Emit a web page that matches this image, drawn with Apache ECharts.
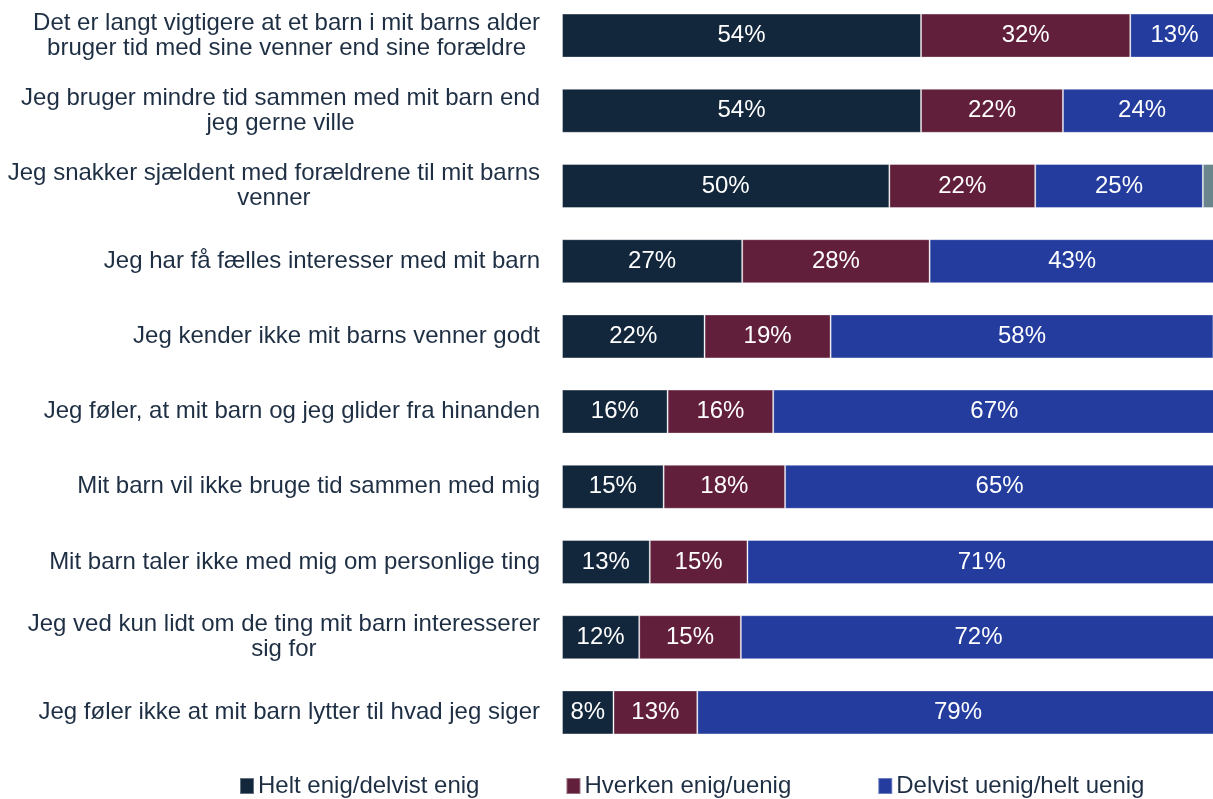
<!DOCTYPE html>
<html>
<head>
<meta charset="utf-8">
<script src="https://cdn.jsdelivr.net/npm/echarts@6/dist/echarts.min.js"></script>
<style>
html,body{margin:0;padding:0;background:#fff;}
#chart{width:1213px;height:799px;}
</style>
</head>
<body>
<div id="chart"></div>
<script>
var categories = [
  "Det er langt vigtigere at et barn i mit barns alder\nbruger tid med sine venner end sine forældre",
  "Jeg bruger mindre tid sammen med mit barn end\njeg gerne ville",
  "Jeg snakker sjældent med forældrene til mit barns\nvenner",
  "Jeg har få fælles interesser med mit barn",
  "Jeg kender ikke mit barns venner godt",
  "Jeg føler, at mit barn og jeg glider fra hinanden",
  "Mit barn vil ikke bruge tid sammen med mig",
  "Mit barn taler ikke med mig om personlige ting",
  "Jeg ved kun lidt om de ting mit barn interesserer\nsig for",
  "Jeg føler ikke at mit barn lytter til hvad jeg siger"
];
var seriesNames = ["Helt enig/delvist enig", "Hverken enig/uenig", "Delvist uenig/helt uenig", "Ved ikke"];
var enig    = [54.4, 54.4, 49.6, 27.3, 21.6, 16.0, 15.4, 13.3, 11.7, 7.8];
var hverken = [31.7, 21.5, 22.1, 28.4, 19.1, 16.0, 18.4, 14.8, 15.4, 12.7];
var uenig   = [13.4, 24.0, 25.4, 43.2, 58.0, 67.0, 65.0, 71.0, 72.0, 79.0];
var vedIkke = [0.5, 0.1, 2.9, 1.1, 1.3, 1.0, 1.2, 0.9, 0.9, 0.5];
var colors = ["#12273b", "#621f3b", "#233c9e", "#6b858c"];

var FONT = 'Liberation Sans, Arial, sans-serif';
var chart = echarts.init(document.getElementById('chart'));
var valuesList = [enig, hverken, uenig, vedIkke];
var series = valuesList.map(function (vals, i) {
  return {
    name: seriesNames[i],
    type: 'bar',
    stack: 'total',
    data: vals,
    barWidth: 44,
    itemStyle: { color: colors[i], borderColor: 'rgba(255,255,255,0.35)', borderWidth: 1 },
    label: {
      show: i < 3,
      position: 'inside',
      color: '#ffffff',
      fontFamily: FONT,
      fontSize: 24,
      formatter: function (p) { return Math.round(p.value) + '%'; }
    },
    emphasis: { disabled: true }
  };
});

chart.setOption({
  animation: false,
  textStyle: { fontFamily: FONT },
  grid: { left: 562, width: 660, top: -2, height: 752, containLabel: false, outerBoundsMode: 'none' },
  xAxis: {
    type: 'value', min: 0, max: 100,
    show: false
  },
  yAxis: {
    type: 'category',
    inverse: true,
    data: categories,
    axisLine: { show: false },
    axisTick: { show: false },
    axisLabel: {
      margin: 22,
      color: '#1e2f44',
      fontSize: 24,
      lineHeight: 25,
      fontFamily: FONT,
      formatter: function (v) {
        return v.split('\n').map(function (l) { return '{c|' + l + '}'; }).join('\n');
      },
      rich: { c: { align: 'center', fontSize: 24, lineHeight: 25, color: '#1e2f44', fontFamily: FONT } }
    }
  },
  legend: {
    data: seriesNames.slice(0, 3),
    left: 234,
    top: 769,
    itemWidth: 14,
    itemHeight: 16,
    itemGap: 86,
    icon: 'rect',
    textStyle: { color: '#1e2f44', fontSize: 24, fontFamily: FONT, padding: [0, 0, 0, -1] }
  },
  series: series
});
</script>
</body>
</html>
